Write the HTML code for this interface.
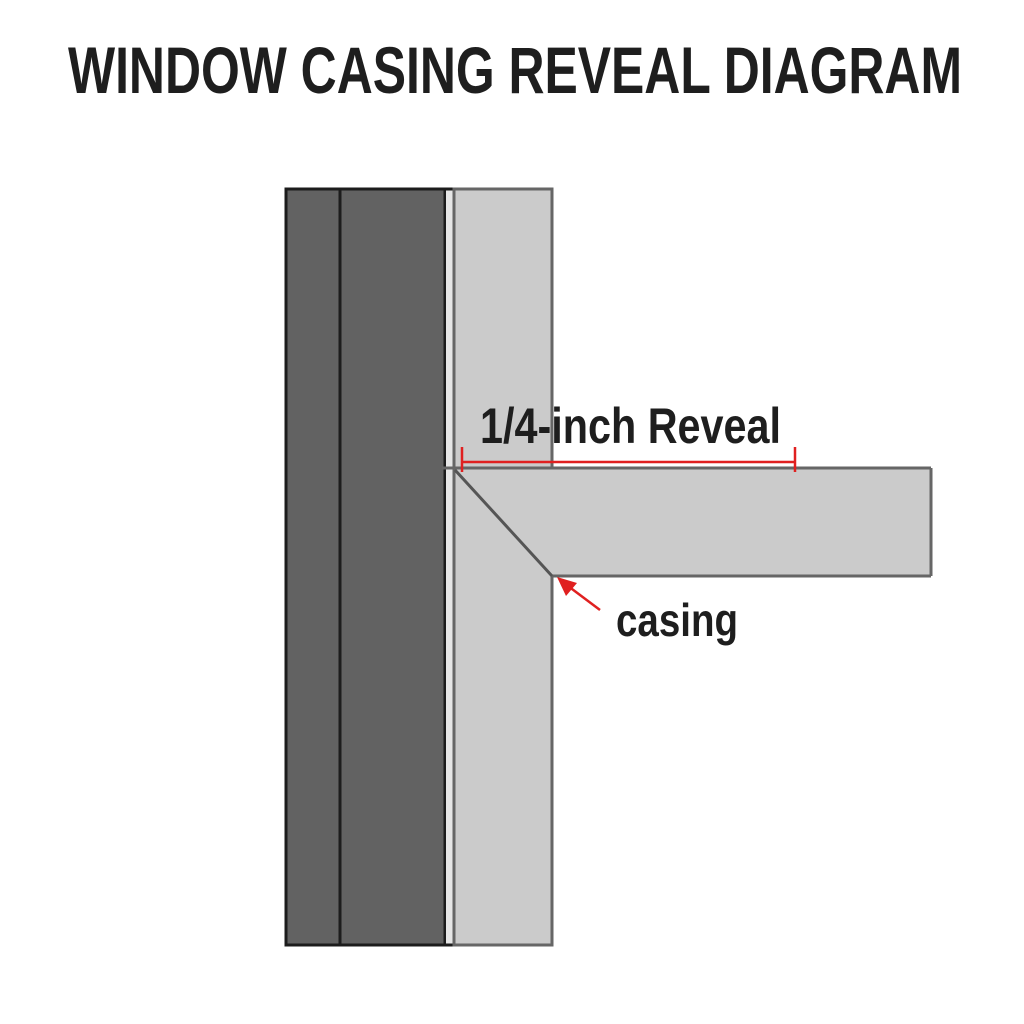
<!DOCTYPE html>
<html><head><meta charset="utf-8"><style>body{margin:0;background:#fff}svg{display:block}</style></head>
<body>
<svg width="1024" height="1024" viewBox="0 0 1024 1024" xmlns="http://www.w3.org/2000/svg">
<rect width="1024" height="1024" fill="#fff"/>
<g font-family="'Liberation Sans Narrow','Liberation Sans',sans-serif" font-weight="bold" fill="#1e1e1e">
<text x="68" y="93" font-size="66" textLength="894" lengthAdjust="spacingAndGlyphs">WINDOW CASING REVEAL DIAGRAM</text>
</g>
<rect x="286" y="189" width="159" height="756" fill="#626262" stroke="#1c1c1c" stroke-width="3"/>
<line x1="340" y1="189" x2="340" y2="945" stroke="#1c1c1c" stroke-width="3"/>
<rect x="446" y="190" width="7" height="754" fill="#e6e6e6"/>
<line x1="445" y1="189" x2="453" y2="189" stroke="#1c1c1c" stroke-width="3"/>
<line x1="445" y1="945" x2="453" y2="945" stroke="#1c1c1c" stroke-width="3"/>
<rect x="454" y="189" width="98" height="756" fill="#cbcbcb" stroke="#666" stroke-width="3"/>
<rect x="456" y="468" width="475" height="108" fill="#cbcbcb"/>
<line x1="442" y1="468" x2="931" y2="468" stroke="#666" stroke-width="3"/>
<line x1="931" y1="468" x2="931" y2="576" stroke="#666" stroke-width="3"/>
<line x1="552" y1="576" x2="931" y2="576" stroke="#666" stroke-width="3"/>
<line x1="455" y1="470" x2="552" y2="576" stroke="#555" stroke-width="3"/>
<g stroke="#e02020" stroke-width="2.5">
<line x1="462" y1="462" x2="795" y2="462"/>
<line x1="462" y1="447" x2="462" y2="472"/>
<line x1="795" y1="447" x2="795" y2="472"/>
<line x1="600" y1="610" x2="568" y2="586"/>
</g>
<polygon points="557,577 577,583 566,596" fill="#e02020"/>
<g font-family="'Liberation Sans Narrow','Liberation Sans',sans-serif" font-weight="bold" fill="#1e1e1e">
<text x="480" y="443" font-size="50" textLength="301" lengthAdjust="spacingAndGlyphs">1/4-inch Reveal</text>
<text x="616" y="636" font-size="46" textLength="122" lengthAdjust="spacingAndGlyphs">casing</text>
</g>
</svg>
</body></html>
